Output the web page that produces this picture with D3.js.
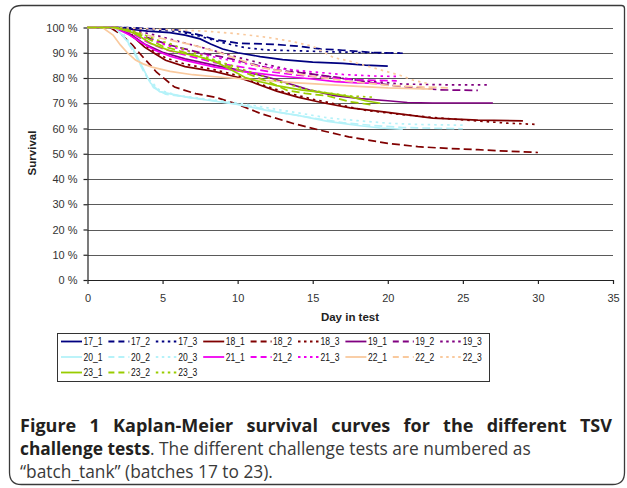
<!DOCTYPE html>
<html><head><meta charset="utf-8">
<script src="https://cdn.jsdelivr.net/npm/d3@7"></script>
<style>body{margin:0;background:#fff}svg{display:block}</style>
</head><body><svg id="c" width="627" height="488"></svg>
<script>
// ---- data ----
const seriesNames = ["17_1","17_2","17_3","18_1","18_2","18_3","19_1","19_2","19_3",
  "20_1","20_2","20_3","21_1","21_2","21_3","22_1","22_2","22_3","23_1","23_2","23_3"];
const xTicks = [0,5,10,15,20,25,30,35];
const yTicks = [0,10,20,30,40,50,60,70,80,90,100];
const s17_1 = [[0,100],[2.2,100],[3,99.2],[4,98.6],[5.5,98],[6.5,97],[7.5,95.5],[8.2,93.5],[9,91.5],[10,90],[11.5,88.5],[13,87.3],[15,86.3],[17,85.8],[18.5,85.1],[20,84.7]];
const s17_2 = [[0,100],[2.5,100],[4,99.6],[6,99],[7.5,97],[8.5,95.2],[10,93.8],[12.5,93.3],[14,92.6],[15.5,91.5],[17,91],[19,90.1],[21,89.8]];
const s17_3 = [[0,100],[2.5,100],[4,99.3],[6,98.5],[7.5,96.5],[9,94],[10.5,92],[12,91.1],[15,90.6],[18,90.1],[21,89.8]];
const s18_1 = [[0,100],[1.8,100],[2.5,98.5],[3.2,95.5],[3.8,92.2],[4.5,89.6],[5.2,87],[6.5,84.5],[8.5,82.5],[10,80.3],[11,78.3],[12.6,74.8],[14,72.4],[15.5,70.4],[17.5,68.2],[20,66.4],[23,64.1],[26,63.3],[29,63]];
const s18_2 = [[0,100],[1.5,100],[2.3,97],[3,93],[3.5,89.6],[4.6,82.3],[5.8,76.4],[7.2,73.8],[8.5,72.4],[10,69.6],[11.5,66],[13.7,62],[15.5,59.3],[17.4,56.7],[20,54.1],[22,52.8],[24,52.1],[26,51.6],[28,51],[30,50.5]];
const s18_3 = [[0,100],[2,100],[2.8,98],[3.5,94.3],[4.3,91],[5.2,88],[6.5,85.5],[8.5,83.2],[10,81],[11.5,77.6],[13,74.6],[15,71.6],[17,69.1],[18.6,67.1],[21,65.5],[23.5,64.1],[26,63],[28,62.1],[30,61.6]];
const s19_1 = [[0,100],[1.8,100],[2.8,97.5],[3.8,93.5],[5,90.2],[6.5,87.6],[8.5,85],[10.5,82.6],[12.5,79.5],[14.8,75.2],[16.5,73],[18.2,71.8],[20,71],[21.3,70.3],[23,70.1],[27,70.1]];
const s19_2 = [[0,100],[2,100],[3,98.5],[4,96],[5.5,93],[7.5,90],[9.5,87.7],[11,85.5],[12.5,83.2],[15,81.5],[17,80],[19,78.1],[21,76.6],[23.5,75.3],[26,75.1]];
const s19_3 = [[0,100],[2,100],[3,99],[4.5,97],[6,94.6],[8,91.5],[10,88.2],[12,85.2],[14,82.6],[16,80.6],[18,79.1],[21,77.6],[24,77.3],[26.7,77.3]];
const s20_1 = [[0,100],[1.8,100],[2.3,97],[3,92],[3.6,85],[4.2,78],[4.8,74.6],[6.5,72.5],[8.5,70.8],[10,69.5],[12,67.1],[14,65.2],[16,62.8],[18,61.2],[19.5,60.2],[21,59.7]];
const s20_2 = [[0,100],[1.8,100],[2.4,96.5],[3.1,90],[3.8,82],[4.4,76.2],[5.2,73.6],[7,72.1],[9,70.6],[11,68.6],[13,66.2],[15,64.2],[17,62.3],[19,61.2],[21,60.4],[23,60.1],[25,59.9]];
const s20_3 = [[0,100],[2,100],[2.6,96],[3.3,88],[4,80],[4.8,75.2],[6,73.1],[8,71.6],[10,70.1],[12,68.2],[14,66.2],[16,64.2],[18,63.1],[20,62.1],[22,61.6],[25,61.3]];
const s21_1 = [[0,100],[1.8,100],[2.8,97],[3.6,94],[4.5,91],[5.5,88.6],[6.5,87],[8.5,84.3],[10,82.8],[11.5,81.7],[13,80.7],[14.8,79.7],[16.5,78.6],[18,78.1],[19.5,77.9]];
const s21_2 = [[0,100],[2,100],[3,97.5],[4,94.2],[5,91.6],[6.5,89.1],[8.5,86.1],[10,84.6],[12,82.6],[14,81.1],[16,80.1],[18,79.3],[20.6,78.9]];
const s21_3 = [[0,100],[2,100],[3,98],[4,95.6],[5.2,93.1],[7,90.1],[9,87.6],[11,85.1],[13,83.6],[15,82.4],[17,81.4],[19,80.8],[20.8,80.6]];
const s22_1 = [[0,100],[1,100],[1.7,97],[2.2,93],[2.7,89.7],[3.2,87.1],[3.7,85.6],[4.3,84.3],[5.5,82.6],[7,81.3],[8.5,80.5],[10,79.8],[12,78.9],[14,78.1],[16,77.4],[18,76.7],[20,76.1],[23,75.6]];
const s22_2 = [[0,100],[1.5,100],[2.5,99],[3.5,97.6],[4.6,96.1],[5.8,94.6],[7,93.1],[8.5,90.6],[10,87.6],[11.5,84.2],[13.5,82.1],[15.5,80.2],[17.5,78.6],[20,77.1],[22.5,76.4],[24,76.1]];
const s22_3 = [[0,100],[2,100],[4,99.5],[6,99],[8,98.5],[10,97.5],[12,96.1],[13.5,94.6],[15,92.6],[16.4,88.1],[17.5,86.6],[19,84.1],[20.8,81.1],[21.7,79.1],[22.6,77.9]];
const s23_1 = [[0,100],[1.8,100],[2.4,99],[3,98],[3.6,96],[4.3,93.5],[5.4,91],[6.5,89.6],[7.5,88.3],[8.5,86.5],[9.5,83.5],[10.5,80.2],[11.5,78.5],[12.6,77],[14.2,75.3],[16,74],[17.5,72.6],[18.5,71],[19.5,70]];
const s23_2 = [[0,100],[2,100],[3,98.5],[4,95.6],[5,92.6],[6.5,90.1],[8.5,86.6],[10.5,82.1],[12,78.6],[13.3,75.1],[14.5,73.9],[16,72.9],[17.5,70.6],[19,69.3]];
const s23_3 = [[0,100],[2,100],[2.8,99],[3.6,97.6],[4.6,95.1],[5.5,93.6],[7,90.1],[8.5,87.1],[10,84.1],[11.5,81.1],[13,78.1],[14.5,75.6],[16,74.1],[17.5,72.9],[19,72.4]];
const seriesData = [s17_1,s17_2,s17_3,s18_1,s18_2,s18_3,s19_1,s19_2,s19_3,s20_1,s20_2,s20_3,
  s21_1,s21_2,s21_3,s22_1,s22_2,s22_3,s23_1,s23_2,s23_3];

// ---- styles ----
const batchColors = ["#000080","#800000","#800080","#b5f2f9","#f000f0","#f9c99d","#99cc00"];
const tankDash = [null,"8,4","2.5,4"];
const legendDash = [null,"6,4","2.5,3.5"];

const svg = d3.select("#c");
// frame
const L=9.5,R=624.5,T=5.5,B=484.5,r=12;
svg.append("path")
  .attr("d",`M${L+r},${T} H${R-3} Q${R},${T} ${R},${T+3} V${B-r} Q${R},${B} ${R-r},${B} H${L+r} Q${L},${B} ${L},${B-r} V${T+r} Q${L},${T} ${L+r},${T} Z`)
  .attr("fill","#fff").attr("stroke","#3a3a3a").attr("stroke-width",1.3);

const x = d3.scaleLinear().domain([0,35]).range([87.5,613]);
const y = d3.scaleLinear().domain([0,100]).range([280,27.5]);

// gridlines
svg.append("g").selectAll("line").data(yTicks.filter(v=>v>0)).join("line")
  .attr("x1",x(0)).attr("x2",x(35))
  .attr("y1",d=>Math.round(y(d))+0.5).attr("y2",d=>Math.round(y(d))+0.5)
  .attr("stroke","#5a5a5a").attr("stroke-width",1);

// axes
const yAxis = svg.append("g").attr("transform",`translate(${x(0)},0)`)
  .call(d3.axisLeft(y).tickValues(yTicks).tickSize(4).tickSizeOuter(0).tickPadding(6).tickFormat(d=>d+" %"));
const xAxis = svg.append("g").attr("transform",`translate(0,${y(0)})`)
  .call(d3.axisBottom(x).tickValues(xTicks).tickSize(4).tickSizeOuter(0).tickPadding(10));
[yAxis,xAxis].forEach(g=>{
  g.selectAll("path,line").attr("stroke","#222").attr("stroke-width",1.2);
  g.selectAll("text").attr("font-family","Liberation Sans, Arial, sans-serif").attr("font-size",11).attr("fill","#333");
});

// lines
const line = d3.line().x(d=>x(d[0])).y(d=>y(d[1]));
svg.append("g").selectAll("path").data(seriesData).join("path")
  .attr("d",line).attr("fill","none")
  .attr("stroke",(d,i)=>batchColors[Math.floor(i/3)])
  .attr("stroke-width",1.7)
  .attr("stroke-dasharray",(d,i)=>tankDash[i%3]);

// axis titles
svg.append("text").attr("x",350).attr("y",321).attr("text-anchor","middle")
  .attr("font-family","Liberation Sans, Arial, sans-serif").attr("font-weight","bold").attr("font-size",11.5)
  .attr("fill","#222").text("Day in test");
svg.append("text").attr("transform","translate(36,153) rotate(-90)").attr("text-anchor","middle")
  .attr("font-family","Liberation Sans, Arial, sans-serif").attr("font-weight","bold").attr("font-size",11.5)
  .attr("fill","#222").text("Survival");

// legend
svg.append("rect").attr("x",57.5).attr("y",333.5).attr("width",432).attr("height",48)
  .attr("fill","#fff").attr("stroke","#333").attr("stroke-width",1);
const lg = svg.append("g").selectAll("g").data(seriesNames).join("g")
  .attr("transform",(d,i)=>`translate(${61+(i%9)*47.4},${341.5+Math.floor(i/9)*15.5})`);
lg.append("line").attr("x1",0).attr("x2",21).attr("y1",0).attr("y2",0)
  .attr("stroke",(d,i)=>batchColors[Math.floor(i/3)]).attr("stroke-width",1.8)
  .attr("stroke-dasharray",(d,i)=>legendDash[i%3]);
lg.append("text").attr("x",22.5).attr("y",3.6).text(d=>d)
  .attr("font-family","Liberation Sans, Arial, sans-serif").attr("font-size",10)
  .attr("textLength",19).attr("lengthAdjust","spacingAndGlyphs").attr("fill","#111");

// caption
const capFont = "Open Sans, Noto Sans, sans-serif";
const capX = 20;
const l2 = svg.append("text").attr("x",capX).attr("y",455).attr("font-family",capFont).attr("font-size",16).attr("fill","#231f20");
l2.append("tspan").attr("font-weight","bold").text("challenge tests");
l2.append("tspan").attr("fill","#3a3a3a").text(". The different challenge tests are numbered as");
const w2 = l2.node().getComputedTextLength();
const fs = 16*511/w2;
l2.attr("font-size",fs);
const line1Text = "Figure 1 Kaplan-Meier survival curves for the different TSV";
const l1 = svg.append("text").attr("x",capX).attr("y",432).attr("font-family",capFont).attr("font-size",fs*1.04)
  .attr("font-weight","bold").attr("fill","#231f20").text(line1Text);
const w1 = l1.node().getComputedTextLength();
const nSpaces = line1Text.split(" ").length-1;
l1.attr("word-spacing",Math.max(0,(612-capX-w1)/nSpaces));
svg.append("text").attr("x",capX).attr("y",478).attr("font-family",capFont).attr("font-size",fs)
  .attr("fill","#3a3a3a").text("\u201Cbatch_tank\u201D (batches 17 to 23).");
</script></body></html>
